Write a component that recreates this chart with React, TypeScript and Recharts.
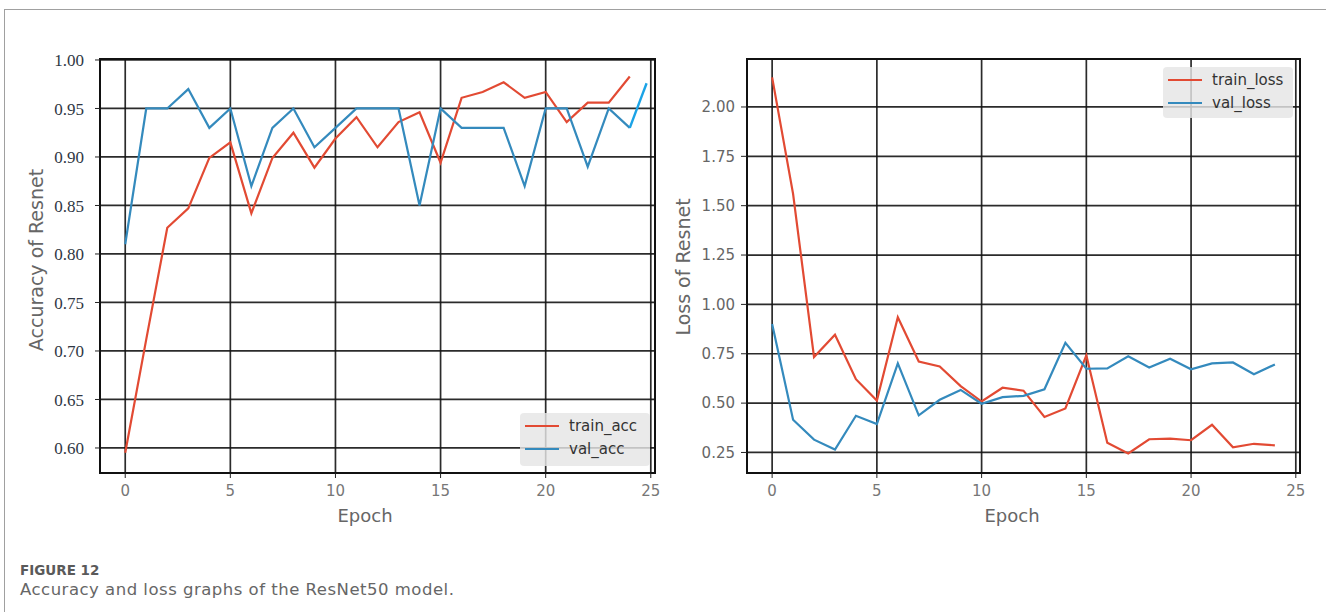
import {
  LineChart,
  Line,
  XAxis,
  YAxis,
  CartesianGrid,
  ReferenceArea,
  Legend,
} from "recharts";

// training history of the ResNet50 run, one value per epoch
const epochs = [0, 1, 2, 3, 4, 5, 6, 7, 8, 9, 10, 11, 12, 13, 14, 15, 16, 17, 18, 19, 20, 21, 22, 23, 24];

const trainAcc = [
  0.595, 0.712, 0.827, 0.847, 0.899, 0.915, 0.842, 0.899, 0.925, 0.889, 0.919, 0.941, 0.91,
  0.936, 0.946, 0.894, 0.961, 0.967, 0.977, 0.961, 0.967, 0.936, 0.956, 0.956, 0.983,
];
const valAcc = [
  0.81, 0.95, 0.95, 0.97, 0.93, 0.95, 0.87, 0.93, 0.95, 0.91, 0.93, 0.95, 0.95, 0.95, 0.85,
  0.95, 0.93, 0.93, 0.93, 0.87, 0.95, 0.95, 0.89, 0.95, 0.93,
];
// short extra segment at the end of the val_acc curve
const valAccTailEpochs = [24, 24.8];
const valAccTail = [0.93, 0.976];

const trainLoss = [
  2.15, 1.56, 0.733, 0.846, 0.621, 0.513, 0.935, 0.711, 0.686, 0.586, 0.508, 0.578, 0.563,
  0.43, 0.473, 0.742, 0.299, 0.245, 0.317, 0.32, 0.312, 0.39, 0.276, 0.294, 0.286,
];
const valLoss = [
  0.901, 0.416, 0.315, 0.265, 0.436, 0.394, 0.701, 0.438, 0.517, 0.567, 0.497, 0.53, 0.537,
  0.57, 0.805, 0.674, 0.676, 0.737, 0.68, 0.725, 0.671, 0.701, 0.706, 0.646, 0.696,
];

const xTicks = [0, 5, 10, 15, 20, 25];
const accTicks = [0.6, 0.65, 0.7, 0.75, 0.8, 0.85, 0.9, 0.95, 1.0];
const lossTicks = [0.25, 0.5, 0.75, 1.0, 1.25, 1.5, 1.75, 2.0];

const RED = "#e24a33";
const BLUE = "#348abd";
const TAIL_BLUE = "#1ba3e6";
const GRID = "#141414";
const SANS = "'DejaVu Sans', sans-serif";

const X_DOMAIN: [number, number] = [-1.2, 25.2];
const ACC_DOMAIN: [number, number] = [0.5742, 1.001];
const LOSS_DOMAIN: [number, number] = [0.146, 2.243];

const accRows = epochs.map((epoch, i) => ({ epoch, trainAcc: trainAcc[i], valAcc: valAcc[i] }));
const accTailRows = valAccTailEpochs.map((epoch, i) => ({ epoch, valAccTail: valAccTail[i] }));
const lossRows = epochs.map((epoch, i) => ({ epoch, trainLoss: trainLoss[i], valLoss: valLoss[i] }));

type LegendItem = { label: string; color: string };

const LegendBox = ({ items, lineWidth }: { items: LegendItem[]; lineWidth: number }) => (
  <div
    style={{
      background: "rgba(229,229,229,0.82)",
      borderRadius: 4,
      padding: "1px 8px 0 5px",
      fontFamily: SANS,
      fontSize: 15,
      color: "#333",
      boxSizing: "border-box",
      height: "100%",
    }}
  >
    {items.map((it) => (
      <div key={it.label} style={{ display: "flex", alignItems: "center", height: 23 }}>
        <span style={{ width: lineWidth, height: 2, background: it.color, marginRight: 10 }} />
        <span>{it.label}</span>
      </div>
    ))}
  </div>
);

const yTitle = (text: string, x: number, cy: number) => () => (
  <text
    x={x}
    y={cy}
    transform={`rotate(-90 ${x} ${cy})`}
    textAnchor="middle"
    dominantBaseline="central"
    fill="#666"
    fontFamily={SANS}
    fontSize={19}
  >
    {text}
  </text>
);

const xTitle = (x: number) => () => (
  <text x={x} y={515} textAnchor="middle" dominantBaseline="central" fill="#666" fontFamily={SANS} fontSize={18}>
    Epoch
  </text>
);

const xTick = { fontSize: 15, fill: "#777", fontFamily: SANS };

const AccuracyChart = () => (
  <LineChart width={680} height={540} data={accRows} margin={{ top: 59, right: 25, bottom: 0, left: 20 }}>
    <CartesianGrid stroke={GRID} strokeWidth={1.7} strokeOpacity={0.9} />
    <XAxis
      dataKey="epoch"
      type="number"
      domain={X_DOMAIN}
      ticks={xTicks}
      height={67}
      tick={xTick}
      tickSize={5}
      tickMargin={7}
      tickLine={{ stroke: "#222" }}
      axisLine={false}
      allowDataOverflow
      label={{ content: xTitle(365) }}
    />
    <YAxis
      type="number"
      domain={ACC_DOMAIN}
      ticks={accTicks}
      width={80}
      tick={{ fontSize: 17, fill: "#2f3744", fontFamily: "'Liberation Serif', serif" }}
      tickFormatter={(v: number) => v.toFixed(2)}
      tickSize={5}
      tickMargin={11}
      tickLine={{ stroke: "#222" }}
      axisLine={false}
      allowDataOverflow
      label={{ content: yTitle("Accuracy of Resnet", 36, 260) }}
    />
    <ReferenceArea
      x1={X_DOMAIN[0]}
      x2={X_DOMAIN[1]}
      y1={ACC_DOMAIN[0]}
      y2={ACC_DOMAIN[1]}
      fill="none"
      stroke="#111"
      strokeWidth={2}
    />
    <Line type="linear" dataKey="trainAcc" stroke={RED} strokeWidth={2.2} dot={false} isAnimationActive={false} />
    <Line type="linear" dataKey="valAcc" stroke={BLUE} strokeWidth={2.2} dot={false} isAnimationActive={false} />
    <Line
      type="linear"
      data={accTailRows}
      dataKey="valAccTail"
      stroke={TAIL_BLUE}
      strokeWidth={2.4}
      dot={false}
      isAnimationActive={false}
      legendType="none"
    />
    <Legend
      layout="vertical"
      align="center"
      verticalAlign="middle"
      wrapperStyle={{ left: 520, top: 413, width: 130, height: 53 }}
      content={() => (
        <LegendBox
          lineWidth={34}
          items={[
            { label: "train_acc", color: RED },
            { label: "val_acc", color: BLUE },
          ]}
        />
      )}
    />
  </LineChart>
);

const LossChart = () => (
  <LineChart width={660} height={540} data={lossRows} margin={{ top: 59, right: 20, bottom: 0, left: 7 }}>
    <CartesianGrid stroke={GRID} strokeWidth={1.7} strokeOpacity={0.9} />
    <XAxis
      dataKey="epoch"
      type="number"
      domain={X_DOMAIN}
      ticks={xTicks}
      height={67}
      tick={xTick}
      tickSize={5}
      tickMargin={7}
      tickLine={{ stroke: "#222" }}
      axisLine={false}
      allowDataOverflow
      label={{ content: xTitle(352) }}
    />
    <YAxis
      type="number"
      domain={LOSS_DOMAIN}
      ticks={lossTicks}
      width={80}
      tick={{ fontSize: 15, fill: "#666", fontFamily: SANS }}
      tickFormatter={(v: number) => v.toFixed(2)}
      tickSize={6}
      tickMargin={6}
      tickLine={{ stroke: "#222" }}
      axisLine={false}
      allowDataOverflow
      label={{ content: yTitle("Loss of Resnet", 23, 267) }}
    />
    <ReferenceArea
      x1={X_DOMAIN[0]}
      x2={X_DOMAIN[1]}
      y1={LOSS_DOMAIN[0]}
      y2={LOSS_DOMAIN[1]}
      fill="none"
      stroke="#111"
      strokeWidth={2}
    />
    <Line type="linear" dataKey="trainLoss" stroke={RED} strokeWidth={2.2} dot={false} isAnimationActive={false} />
    <Line type="linear" dataKey="valLoss" stroke={BLUE} strokeWidth={2.2} dot={false} isAnimationActive={false} />
    <Legend
      layout="vertical"
      align="center"
      verticalAlign="middle"
      wrapperStyle={{ left: 503, top: 67, width: 130, height: 51 }}
      content={() => (
        <LegendBox
          lineWidth={34}
          items={[
            { label: "train_loss", color: RED },
            { label: "val_loss", color: BLUE },
          ]}
        />
      )}
    />
  </LineChart>
);

export default function App() {
  return (
    <div style={{ position: "absolute", left: 0, top: 0, width: 1326, height: 612, background: "#fff", overflow: "hidden" }}>
      <div
        style={{
          position: "absolute",
          left: 4,
          top: 9,
          width: 1340,
          height: 620,
          borderLeft: "1.5px solid #a0a0a0",
          borderTop: "1.5px solid #a0a0a0",
        }}
      />
      <div style={{ position: "absolute", left: 0, top: 0 }}>
        <AccuracyChart />
      </div>
      <div style={{ position: "absolute", left: 660, top: 0 }}>
        <LossChart />
      </div>
      <div
        style={{
          position: "absolute",
          left: 20,
          top: 562,
          fontFamily: SANS,
          fontSize: 13.5,
          fontWeight: 600,
          color: "#5a5a5a",
        }}
      >
        FIGURE 12
      </div>
      <div
        style={{
          position: "absolute",
          left: 20,
          top: 580,
          fontFamily: SANS,
          fontSize: 16.5,
          letterSpacing: 0.5,
          color: "#666",
        }}
      >
        Accuracy and loss graphs of the ResNet50 model.
      </div>
    </div>
  );
}
